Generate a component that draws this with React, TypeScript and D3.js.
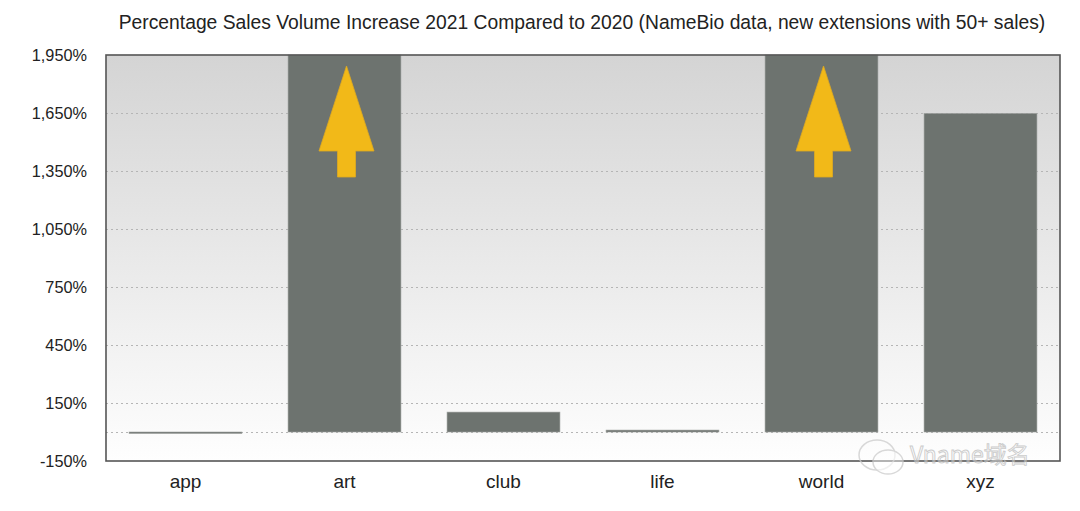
import { useRef, useEffect } from "react";
import * as d3 from "d3";

const categories = ["app", "art", "club", "life", "world", "xyz"];
const values = [-4, 2600, 103, 10, 2600, 1648]; // art & world run off the top of the axis
const overflow = [false, true, false, false, true, false];
const tickValues = [-150, 150, 450, 750, 1050, 1350, 1650, 1950];
const title = "Percentage Sales Volume Increase 2021 Compared to 2020 (NameBio data, new extensions with 50+ sales)";

export default function App() {
  const svgRef = useRef<SVGSVGElement>(null);

  useEffect(() => {
    if (!svgRef.current) return;
    const svg = d3.select(svgRef.current);
    svg.selectAll("*").remove();

    const W = 1080, H = 511;
    const m = { top: 55, right: 20, bottom: 50, left: 106 };
    const x0 = m.left, x1 = W - m.right, y0 = m.top, y1 = H - m.bottom;
    const font = "'Liberation Sans', Arial, sans-serif";

    const x = d3.scaleBand<string>().domain(categories).range([x0, x1])
      .paddingInner(0.29).paddingOuter(0.145);
    const y = d3.scaleLinear().domain([-150, 1950]).range([y1, y0]).clamp(true);

    const defs = svg.append("defs");
    const grad = defs.append("linearGradient").attr("id", "bgGrad")
      .attr("x1", "0").attr("y1", "0").attr("x2", "0").attr("y2", "1");
    grad.append("stop").attr("offset", "0%").attr("stop-color", "#d4d4d4");
    grad.append("stop").attr("offset", "100%").attr("stop-color", "#fefefe");

    svg.append("rect").attr("width", W).attr("height", H).attr("fill", "#fff");

    // plot background
    svg.append("rect")
      .attr("x", x0).attr("y", y0).attr("width", x1 - x0).attr("height", y1 - y0)
      .attr("fill", "url(#bgGrad)");

    // gridlines
    const gridVals = tickValues.slice(1, -1).concat([0]);
    svg.append("g").selectAll("line").data(gridVals).join("line")
      .attr("x1", x0).attr("x2", x1)
      .attr("y1", d => Math.round(y(d)) + 0.5).attr("y2", d => Math.round(y(d)) + 0.5)
      .attr("stroke", "#b5b5b5").attr("stroke-width", 1).attr("stroke-dasharray", "2,3");

    // bars
    svg.append("g").selectAll("rect").data(categories).join("rect")
      .attr("x", d => x(d)!)
      .attr("width", x.bandwidth())
      .attr("y", (d, i) => Math.min(y(values[i]), y(0)))
      .attr("height", (d, i) => Math.max(1.5, Math.abs(y(values[i]) - y(0))))
      .attr("fill", "#6d736f")
      .attr("stroke", "#9ea29f").attr("stroke-width", 0.6);

    // overflow arrows
    const arrow = (cx: number) => {
      const tip = 66, headY = 151, half = 27.5, stem = 9, bottom = 177;
      return `M${cx},${tip} L${cx + half},${headY} L${cx + stem},${headY} L${cx + stem},${bottom} L${cx - stem},${bottom} L${cx - stem},${headY} L${cx - half},${headY} Z`;
    };
    svg.append("g").selectAll("path").data(categories.filter((_, i) => overflow[i])).join("path")
      .attr("d", d => arrow(x(d)! + x.bandwidth() / 2 + 2))
      .attr("fill", "#f2b918").attr("stroke", "#e0aa20").attr("stroke-width", 0.8);

    // frame
    svg.append("rect")
      .attr("x", x0).attr("y", y0).attr("width", x1 - x0).attr("height", y1 - y0)
      .attr("fill", "none").attr("stroke", "#555").attr("stroke-width", 1.6);

    // y tick labels
    svg.append("g").selectAll("text").data(tickValues).join("text")
      .attr("x", 87).attr("y", d => y(d) + 5.5)
      .attr("text-anchor", "end")
      .attr("font-family", font).attr("font-size", 16.3).attr("fill", "#222")
      .text(d => d3.format(",")(d).replace("−", "-") + "%");

    // category labels
    svg.append("g").selectAll("text").data(categories).join("text")
      .attr("x", d => x(d)! + x.bandwidth() / 2).attr("y", 488)
      .attr("text-anchor", "middle")
      .attr("font-family", font).attr("font-size", 19).attr("fill", "#222")
      .text(d => d);

    // title
    svg.append("text")
      .attr("x", 582).attr("y", 29)
      .attr("text-anchor", "middle")
      .attr("font-family", font).attr("font-size", 19.3).attr("fill", "#222")
      .text(title);

    // watermark
    const wm = svg.append("g").attr("opacity", 0.75);
    wm.append("ellipse").attr("cx", 877).attr("cy", 455).attr("rx", 18).attr("ry", 15)
      .attr("fill", "none").attr("stroke", "#ccc").attr("stroke-width", 1.5);
    wm.append("ellipse").attr("cx", 888).attr("cy", 462).attr("rx", 15).attr("ry", 12)
      .attr("fill", "rgba(255,255,255,0.6)").attr("stroke", "#ccc").attr("stroke-width", 1.5);
    wm.append("text")
      .attr("x", 910).attr("y", 463)
      .attr("font-family", "'Noto Sans CJK SC', sans-serif").attr("font-size", 23)
      .attr("fill", "rgba(255,255,255,0.5)").attr("stroke", "#bbb").attr("stroke-width", 0.9)
      .text("Vname域名");
  }, []);

  return (
    <div style={{ margin: -8 }}>
      <svg ref={svgRef} width={1080} height={511} style={{ display: "block" }} />
    </div>
  );
}
